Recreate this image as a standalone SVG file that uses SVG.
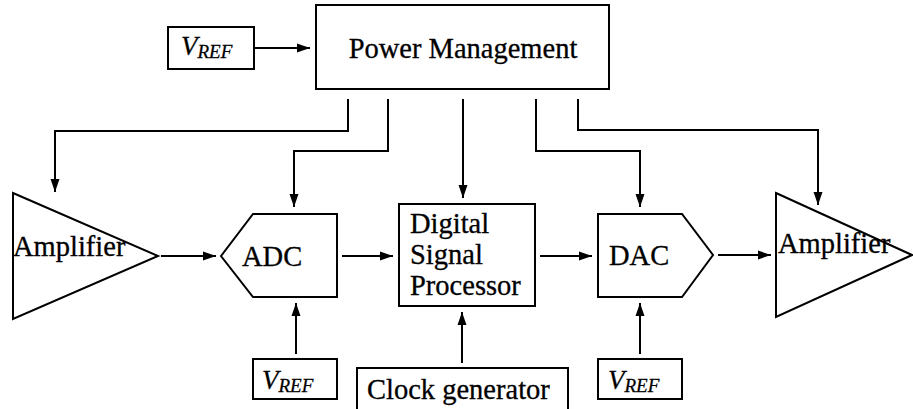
<svg xmlns="http://www.w3.org/2000/svg" width="913" height="409" viewBox="0 0 913 409">
<defs>
<marker id="ah" markerUnits="userSpaceOnUse" markerWidth="14" markerHeight="10" refX="13" refY="5" orient="auto">
<path d="M0,0.5 L13,5 L0,9.5 Z" fill="#000"/>
</marker>
<style>
.s{fill:#fff;stroke:#000;stroke-width:2}
.c{fill:none;stroke:#000;stroke-width:2;marker-end:url(#ah)}
.t{font-family:"Liberation Serif","Times New Roman",serif;font-size:28.5px;fill:#000;stroke:#000;stroke-width:0.3}
.v{font-family:"Liberation Serif","Times New Roman",serif;font-style:italic;font-size:27px;fill:#000;stroke:#000;stroke-width:0.3}
.sub{font-size:19px}
</style>
</defs>
<rect width="913" height="409" fill="#fff"/>
<g id="connectors">
<path class="c" d="M255,48 H310"/>
<path class="c" d="M348,99 V131 H55 V192"/>
<path class="c" d="M388,99 V151 H294 V207"/>
<path class="c" d="M463,99 V198"/>
<path class="c" d="M536,99 V151 H640 V207"/>
<path class="c" d="M578,99 V130 H818 V205"/>
<path class="c" d="M161,256 H216"/>
<path class="c" d="M342,256 H393"/>
<path class="c" d="M540,256 H592"/>
<path class="c" d="M718,255 H771"/>
<path class="c" d="M296,354 V303"/>
<path class="c" d="M462,363 V312"/>
<path class="c" d="M640,354 V303"/>
</g>
<g id="vref-top">
<rect class="s" x="168" y="27" width="86" height="42"/>
<text class="v" x="181" y="55">V<tspan class="sub" dy="3">REF</tspan></text>
</g>
<g id="power-management">
<rect class="s" x="316" y="5" width="293" height="84"/>
<text class="t" x="463" y="58" text-anchor="middle">Power Management</text>
</g>
<g id="amplifier-left">
<path class="s" d="M13,193 L158,256 L13,319 Z"/>
<text class="t" x="13" y="256">Amplifier</text>
</g>
<g id="adc">
<path class="s" d="M221,256 L253,214 H337 V297 H253 Z"/>
<text class="t" x="242" y="266">ADC</text>
</g>
<g id="dsp">
<rect class="s" x="399" y="204" width="136" height="102"/>
<text class="t" x="410" y="233">Digital</text>
<text class="t" x="410" y="264">Signal</text>
<text class="t" x="410" y="295">Processor</text>
</g>
<g id="dac">
<path class="s" d="M598,214 H682 L713,255 L682,297 H598 Z"/>
<text class="t" x="609" y="265">DAC</text>
</g>
<g id="amplifier-right">
<path class="s" d="M776,193 L912,255 L776,317 Z"/>
<text class="t" x="778" y="253">Amplifier</text>
</g>
<g id="vref-adc">
<rect class="s" x="253" y="359" width="84" height="40"/>
<text class="v" x="262" y="389">V<tspan class="sub" dy="3">REF</tspan></text>
</g>
<g id="clock-generator">
<rect class="s" x="357" y="368" width="211" height="50"/>
<text class="t" x="367" y="399">Clock generator</text>
</g>
<g id="vref-dac">
<rect class="s" x="598" y="359" width="84" height="40"/>
<text class="v" x="608" y="389">V<tspan class="sub" dy="3">REF</tspan></text>
</g>
</svg>
